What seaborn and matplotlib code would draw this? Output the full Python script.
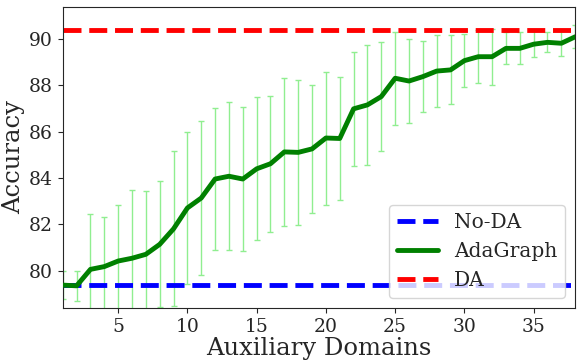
import numpy as np
import pandas as pd
import seaborn as sns
import matplotlib
matplotlib.use('Agg')
import matplotlib.pyplot as plt

# dati
domains = list(range(1, 39))
adagraph_acc = [79.38, 79.35, 80.06, 80.18, 80.42, 80.54, 80.71, 81.14, 81.81, 82.71,
                83.14, 83.96, 84.08, 83.96, 84.40, 84.62, 85.13, 85.11, 85.26, 85.73,
                85.71, 86.99, 87.16, 87.52, 88.31, 88.19, 88.38, 88.62, 88.67, 89.07,
                89.24, 89.24, 89.60, 89.60, 89.78, 89.86, 89.82, 90.10]
adagraph_std = [0.60, 0.66, 2.41, 2.15, 2.40, 2.94, 2.72, 2.72, 3.35, 3.30,
                3.32, 3.05, 3.20, 3.09, 3.08, 2.94, 3.18, 3.13, 2.76, 2.87,
                2.66, 2.46, 2.60, 2.35, 2.00, 1.80, 1.52, 1.57, 1.49, 1.15,
                1.15, 1.20, 0.69, 0.69, 0.57, 0.43, 0.54, 0.50]
no_da_acc = 79.40
da_acc = 90.39

df = pd.DataFrame({'Domains': domains, 'Accuracy': adagraph_acc, 'Std': adagraph_std})

sns.set_style('ticks')
plt.rcParams['font.family'] = ['DejaVu Serif']

fig, ax = plt.subplots(figsize=(5.81, 3.63), dpi=100)
fig.subplots_adjust(left=0.108, right=0.99, top=0.981, bottom=0.152)

# barre di errore
ax.errorbar(df['Domains'], df['Accuracy'], yerr=df['Std'], fmt='none',
            ecolor='lightgreen', elinewidth=1, capsize=2, zorder=1)

ax.axhline(no_da_acc, color='blue', linestyle='--', linewidth=3.5, label='No-DA', zorder=2)
sns.lineplot(data=df, x='Domains', y='Accuracy', color='green', linewidth=3.5,
             label='AdaGraph', ax=ax, zorder=3)
ax.axhline(da_acc, color='red', linestyle='--', linewidth=3.5, label='DA', zorder=2)

ax.set_xlim(1, 38)
ax.set_ylim(78.4, 91.39)
ax.set_xticks([5, 10, 15, 20, 25, 30, 35])
ax.set_yticks([80, 82, 84, 86, 88, 90])
ax.tick_params(labelsize=13.5)
ax.set_xlabel('Auxiliary Domains', fontsize=17.5, labelpad=1)
ax.set_ylabel('Accuracy', fontsize=17.5, labelpad=3)

handles, labels = ax.get_legend_handles_labels()
order = [labels.index(l) for l in ['No-DA', 'AdaGraph', 'DA']]
ax.legend([handles[i] for i in order], [labels[i] for i in order],
          loc='lower right', fontsize=14.5)

plt.savefig('out.png', dpi=100)
